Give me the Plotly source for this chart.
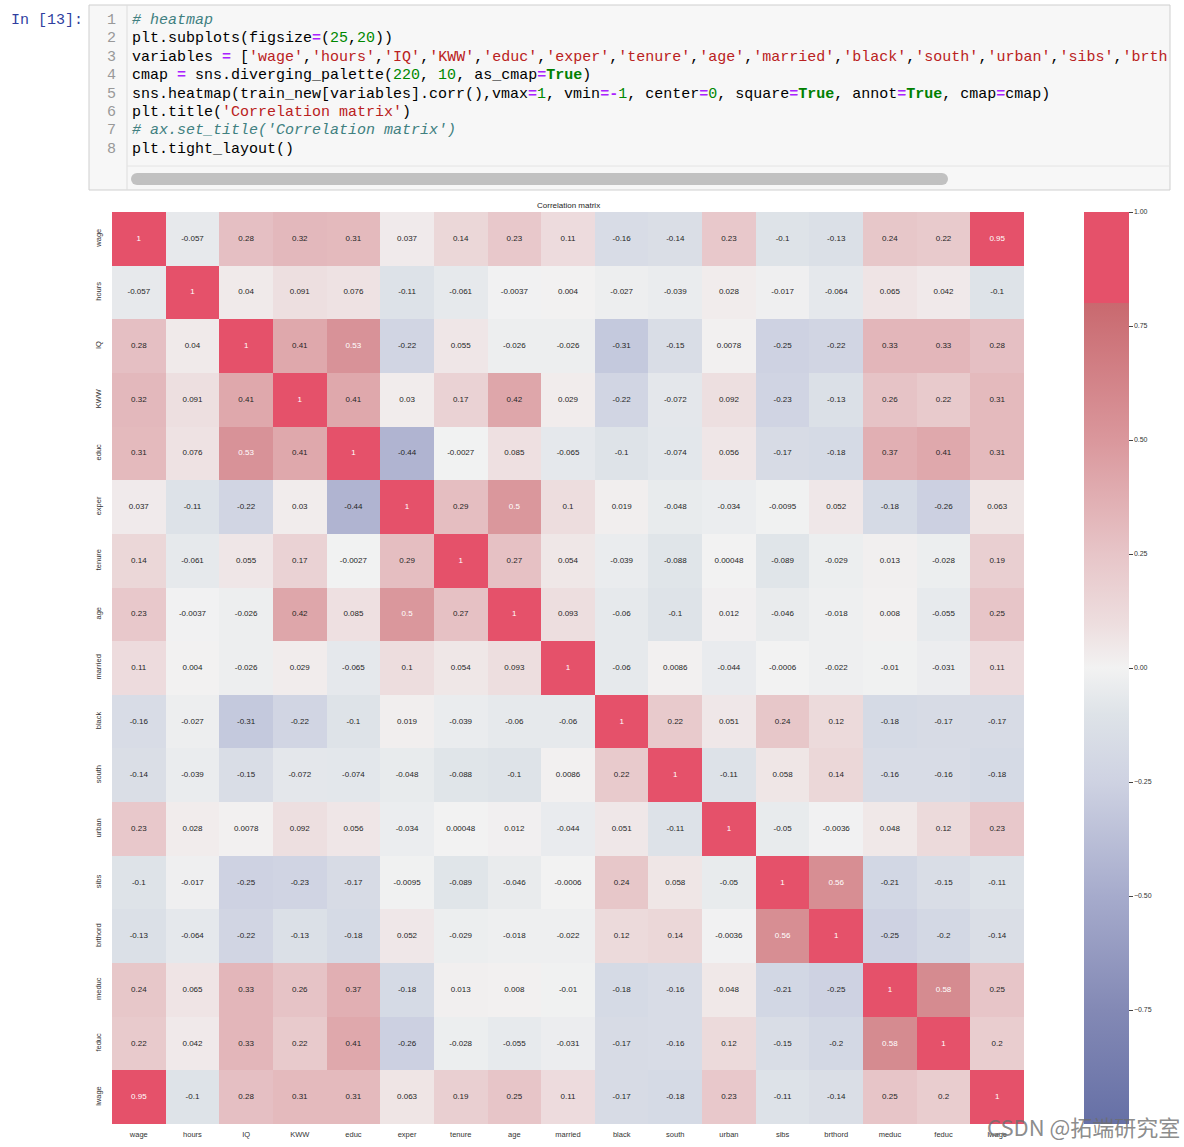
import plotly.graph_objects as go

# ---------------- data ----------------
variables = ['wage', 'hours', 'IQ', 'KWW', 'educ', 'exper', 'tenure', 'age', 'married',
             'black', 'south', 'urban', 'sibs', 'brthord', 'meduc', 'feduc', 'lwage']

r_wage    = [1, -0.057, 0.28, 0.32, 0.31, 0.037, 0.14, 0.23, 0.11, -0.16, -0.14, 0.23, -0.1, -0.13, 0.24, 0.22, 0.95]
r_hours   = [-0.057, 1, 0.04, 0.091, 0.076, -0.11, -0.061, -0.0037, 0.004, -0.027, -0.039, 0.028, -0.017, -0.064, 0.065, 0.042, -0.1]
r_IQ      = [0.28, 0.04, 1, 0.41, 0.53, -0.22, 0.055, -0.026, -0.026, -0.31, -0.15, 0.0078, -0.25, -0.22, 0.33, 0.33, 0.28]
r_KWW     = [0.32, 0.091, 0.41, 1, 0.41, 0.03, 0.17, 0.42, 0.029, -0.22, -0.072, 0.092, -0.23, -0.13, 0.26, 0.22, 0.31]
r_educ    = [0.31, 0.076, 0.53, 0.41, 1, -0.44, -0.0027, 0.085, -0.065, -0.1, -0.074, 0.056, -0.17, -0.18, 0.37, 0.41, 0.31]
r_exper   = [0.037, -0.11, -0.22, 0.03, -0.44, 1, 0.29, 0.5, 0.1, 0.019, -0.048, -0.034, -0.0095, 0.052, -0.18, -0.26, 0.063]
r_tenure  = [0.14, -0.061, 0.055, 0.17, -0.0027, 0.29, 1, 0.27, 0.054, -0.039, -0.088, 0.00048, -0.089, -0.029, 0.013, -0.028, 0.19]
r_age     = [0.23, -0.0037, -0.026, 0.42, 0.085, 0.5, 0.27, 1, 0.093, -0.06, -0.1, 0.012, -0.046, -0.018, 0.008, -0.055, 0.25]
r_married = [0.11, 0.004, -0.026, 0.029, -0.065, 0.1, 0.054, 0.093, 1, -0.06, 0.0086, -0.044, -0.0006, -0.022, -0.01, -0.031, 0.11]
r_black   = [-0.16, -0.027, -0.31, -0.22, -0.1, 0.019, -0.039, -0.06, -0.06, 1, 0.22, 0.051, 0.24, 0.12, -0.18, -0.17, -0.17]
r_south   = [-0.14, -0.039, -0.15, -0.072, -0.074, -0.048, -0.088, -0.1, 0.0086, 0.22, 1, -0.11, 0.058, 0.14, -0.16, -0.16, -0.18]
r_urban   = [0.23, 0.028, 0.0078, 0.092, 0.056, -0.034, 0.00048, 0.012, -0.044, 0.051, -0.11, 1, -0.05, -0.0036, 0.048, 0.12, 0.23]
r_sibs    = [-0.1, -0.017, -0.25, -0.23, -0.17, -0.0095, -0.089, -0.046, -0.0006, 0.24, 0.058, -0.05, 1, 0.56, -0.21, -0.15, -0.11]
r_brthord = [-0.13, -0.064, -0.22, -0.13, -0.18, 0.052, -0.029, -0.018, -0.022, 0.12, 0.14, -0.0036, 0.56, 1, -0.25, -0.2, -0.14]
r_meduc   = [0.24, 0.065, 0.33, 0.26, 0.37, -0.18, 0.013, 0.008, -0.01, -0.18, -0.16, 0.048, -0.21, -0.25, 1, 0.58, 0.25]
r_feduc   = [0.22, 0.042, 0.33, 0.22, 0.41, -0.26, -0.028, -0.055, -0.031, -0.17, -0.16, 0.12, -0.15, -0.2, 0.58, 1, 0.2]
r_lwage   = [0.95, -0.1, 0.28, 0.31, 0.31, 0.063, 0.19, 0.25, 0.11, -0.17, -0.18, 0.23, -0.11, -0.14, 0.25, 0.2, 1]

corr = [r_wage, r_hours, r_IQ, r_KWW, r_educ, r_exper, r_tenure, r_age, r_married,
        r_black, r_south, r_urban, r_sibs, r_brthord, r_meduc, r_feduc, r_lwage]

cbar_ticks = [-0.75, -0.5, -0.25, 0.0, 0.25, 0.5, 0.75, 1.0]

code_lines = [
    [("# heatmap", "#408080", False, True)],
    [("plt.subplots(figsize", "#000", False, False), ("=", "#AA22FF", True, False), ("(", "#000", False, False),
     ("25", "#008800", False, False), (",", "#000", False, False), ("20", "#008800", False, False), ("))", "#000", False, False)],
    [("variables ", "#000", False, False), ("=", "#AA22FF", True, False), (" [", "#000", False, False)],
    [("cmap ", "#000", False, False), ("=", "#AA22FF", True, False), (" sns.diverging_palette(", "#000", False, False),
     ("220", "#008800", False, False), (", ", "#000", False, False), ("10", "#008800", False, False),
     (", as_cmap", "#000", False, False), ("=", "#AA22FF", True, False), ("True", "#008000", True, False), (")", "#000", False, False)],
    [("sns.heatmap(train_new[variables].corr(),vmax", "#000", False, False), ("=", "#AA22FF", True, False),
     ("1", "#008800", False, False), (", vmin", "#000", False, False), ("=-", "#AA22FF", True, False),
     ("1", "#008800", False, False), (", center", "#000", False, False), ("=", "#AA22FF", True, False),
     ("0", "#008800", False, False), (", square", "#000", False, False), ("=", "#AA22FF", True, False),
     ("True", "#008000", True, False), (", annot", "#000", False, False), ("=", "#AA22FF", True, False),
     ("True", "#008000", True, False), (", cmap", "#000", False, False), ("=", "#AA22FF", True, False),
     ("cmap)", "#000", False, False)],
    [("plt.title(", "#000", False, False), ("'Correlation matrix'", "#BA2121", False, False), (")", "#000", False, False)],
    [("# ax.set_title('Correlation matrix')", "#408080", False, True)],
    [("plt.tight_layout()", "#000", False, False)],
]
# line 3 string list (cut by the cell edge)
line3_strings = ['wage', 'hours', 'IQ', 'KWW', 'educ', 'exper', 'tenure', 'age', 'married',
                 'black', 'south', 'urban', 'sibs']
for s in line3_strings:
    code_lines[2].append(("'" + s + "'", "#BA2121", False, False))
    code_lines[2].append((",", "#000", False, False))
code_lines[2].append(("'brth", "#BA2121", False, False))

# ---------------- geometry (pixels) ----------------
W, H = 1184, 1147
L, R, T, B = 112, 1024, 212, 1124
PW, PH = R - L, B - T


def xp(px):
    return (px - L) / PW


def yp(py):
    return (B - py) / PH


def fmt(v):
    return "{:.2g}".format(v)


fig = go.Figure()

colorscale = [
    [0.0, '#6670A6'], [0.125, '#8389B5'], [0.25, '#A6ABCC'], [0.375, '#CED2E2'],
    [0.45, '#DEE3E8'], [0.5, '#F2F2F2'], [0.55, '#EDDDDE'], [0.625, '#E7C5C8'],
    [0.75, '#DA979C'], [0.9, '#C9696F'], [0.9, '#E5516A'], [1.0, '#E5516A'],
]

fig.add_trace(go.Heatmap(
    z=corr, x=variables, y=variables, zmin=-1, zmax=1,
    colorscale=colorscale, xgap=0, ygap=0, hoverongaps=False,
    colorbar=dict(
        x=xp(1083.5), xanchor='left', xref='paper', y=0.5, yanchor='middle',
        len=1.0, lenmode='fraction', thickness=45, outlinewidth=0, ypad=0, xpad=0,
        tickvals=cbar_ticks, tickformat='.2f', ticks='outside', ticklen=4,
        tickcolor='#444', tickwidth=1,
        tickfont=dict(family='Liberation Sans', size=7, color='#333'),
    ),
))

tx, ty, tt, tc = [], [], [], []
for i, row in enumerate(corr):
    for j, v in enumerate(row):
        tx.append(variables[j])
        ty.append(variables[i])
        tt.append(fmt(v))
        tc.append('#FFFFFF' if v >= 0.5 else '#262626')

fig.add_trace(go.Scatter(
    x=tx, y=ty, text=tt, mode='text', hoverinfo='skip',
    textfont=dict(family='Liberation Sans', size=8, color=tc), showlegend=False,
))

# ---------------- notebook code cell ----------------
shapes = [
    dict(type='rect', xref='paper', yref='paper', x0=xp(89), x1=xp(1170), y0=yp(190), y1=yp(5),
         fillcolor='#F7F7F7', line=dict(color='#CFCFCF', width=1), layer='above'),
    dict(type='line', xref='paper', yref='paper', x0=xp(127), x1=xp(127), y0=yp(190), y1=yp(5),
         line=dict(color='#DDDDDD', width=1), layer='above'),
    dict(type='line', xref='paper', yref='paper', x0=xp(127), x1=xp(1170), y0=yp(166), y1=yp(166),
         line=dict(color='#E4E4E4', width=1), layer='above'),
    dict(type='rect', xref='paper', yref='paper', x0=xp(137), x1=xp(942), y0=yp(185), y1=yp(173),
         fillcolor='#C1C1C1', line=dict(width=0), layer='above'),
    dict(type='circle', xref='paper', yref='paper', x0=xp(131), x1=xp(143), y0=yp(185), y1=yp(173),
         fillcolor='#C1C1C1', line=dict(width=0), layer='above'),
    dict(type='circle', xref='paper', yref='paper', x0=xp(936), x1=xp(948), y0=yp(185), y1=yp(173),
         fillcolor='#C1C1C1', line=dict(width=0), layer='above'),
]

annotations = []
mono = 'Liberation Mono'
annotations.append(dict(text='In [13]:', xref='paper', yref='paper', x=xp(9), y=yp(20),
                        xanchor='left', yanchor='middle', showarrow=False,
                        font=dict(family=mono, size=15, color='#303F9F')))

line_y = [20, 38.5, 57, 75.5, 94, 112.5, 131, 149]


def seg_html(text, color, bold, italic):
    t = text.replace(' ', '&nbsp;')
    s = "<span style='color:%s'>%s</span>" % (color, t)
    if bold:
        s = '<b>' + s + '</b>'
    if italic:
        s = '<i>' + s + '</i>'
    return s


for k, (segs, py) in enumerate(zip(code_lines, line_y)):
    annotations.append(dict(text=str(k + 1), xref='paper', yref='paper', x=xp(118), y=yp(py),
                            xanchor='right', yanchor='middle', showarrow=False,
                            font=dict(family=mono, size=15, color='#999999')))
    html = ''.join(seg_html(*s) for s in segs)
    annotations.append(dict(text=html, xref='paper', yref='paper', x=xp(130), y=yp(py),
                            xanchor='left', yanchor='middle', showarrow=False, align='left',
                            font=dict(family=mono, size=15, color='#000000')))

# chart title
annotations.append(dict(text='Correlation matrix', xref='paper', yref='paper', x=0.5, y=yp(205.5),
                        xanchor='center', yanchor='middle', showarrow=False,
                        font=dict(family='Liberation Sans', size=8, color='#262626')))

# watermark
annotations.append(dict(text='CSDN @拓端研究室', xref='paper', yref='paper', x=xp(1182), y=yp(1126),
                        xanchor='right', yanchor='middle', showarrow=False,
                        font=dict(family='Noto Sans CJK SC', size=22, color='rgba(110,110,110,0.8)')))

n = len(variables)
fig.update_layout(
    width=W, height=H, autosize=False,
    margin=dict(l=L, r=W - R, t=T, b=H - B, pad=0, autoexpand=False),
    paper_bgcolor='white', plot_bgcolor='white',
    shapes=shapes, annotations=annotations, showlegend=False,
    xaxis=dict(domain=[0, 1], showgrid=False, zeroline=False, showline=False,
               ticks='outside', ticklen=3, tickcolor='rgba(0,0,0,0)',
               range=[-0.5, n - 0.5], autorange=False,
               tickfont=dict(family='Liberation Sans', size=7.5, color='#333'), tickangle=0,
               automargin=False),
    yaxis=dict(domain=[0, 1], showgrid=False, zeroline=False, showline=False,
               ticks='outside', ticklen=7, tickcolor='rgba(0,0,0,0)',
               range=[n - 0.5, -0.5], autorange=False, tickangle=-90, automargin=False,
               tickfont=dict(family='Liberation Sans', size=7.5, color='#333')),
)

fig.write_html("out.html", config={'displayModeBar': False},
               post_script="document.body.style.margin='0px';")
